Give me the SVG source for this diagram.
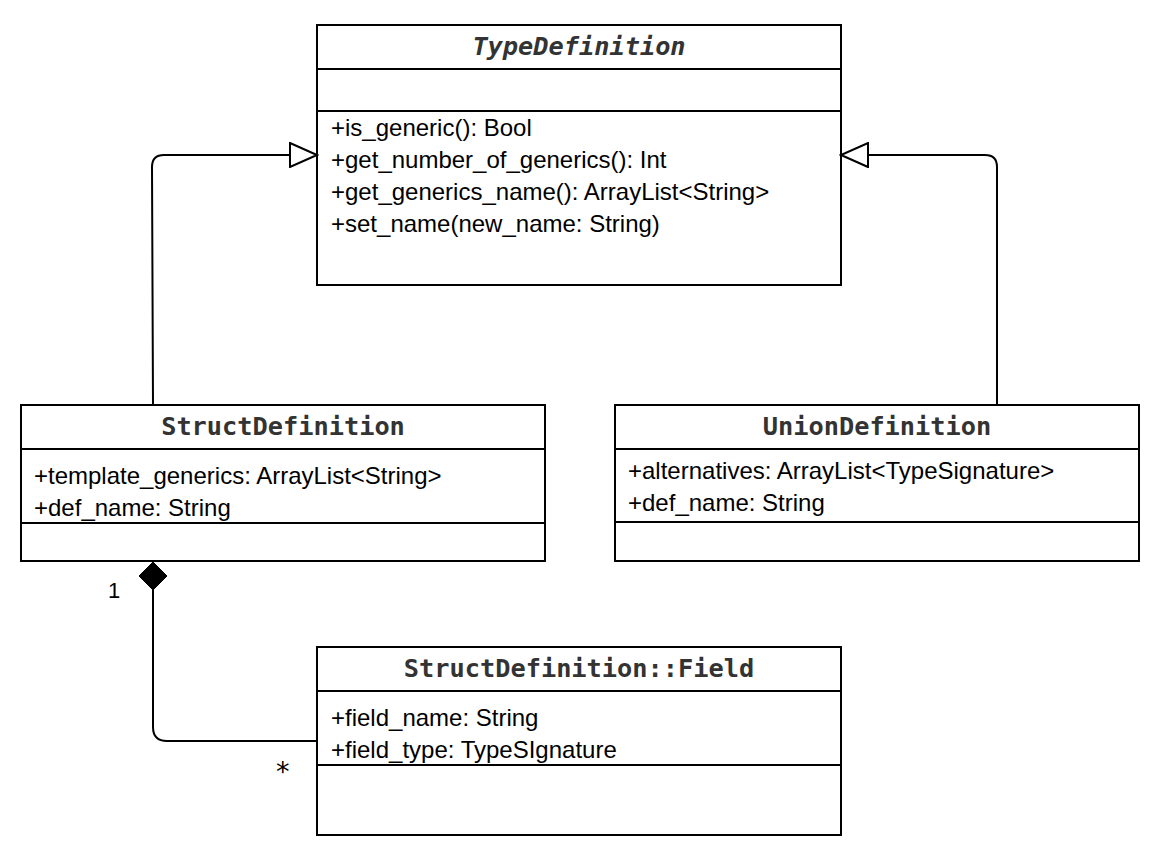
<svg xmlns="http://www.w3.org/2000/svg" width="1162" height="853" viewBox="0 0 1162 853">
<style>
.box{fill:#fff;stroke:#000;stroke-width:2}
.div{stroke:#000;stroke-width:2;fill:none}
.title{font-family:"DejaVu Sans Mono","Liberation Mono",monospace;font-weight:bold;font-size:25.3px;fill:#333;text-anchor:middle}
.it{font-style:italic}
.txt{font-family:"Liberation Sans",Arial,sans-serif;font-size:24px;fill:#000}
.edge{fill:none;stroke:#000;stroke-width:2}
.lbl{font-family:"Liberation Sans",Arial,sans-serif;font-size:22px;fill:#000}
.star{font-family:"DejaVu Sans",sans-serif;font-size:27px;fill:#000}
</style>
<defs>
<marker id="gen" markerWidth="30" markerHeight="26" refX="28" refY="13" orient="auto" markerUnits="userSpaceOnUse">
<path d="M1,1 L28,13 L1,25 Z" fill="#fff" stroke="#000" stroke-width="2"/>
</marker>
<marker id="comp" markerWidth="32" markerHeight="32" refX="2" refY="16" orient="auto" markerUnits="userSpaceOnUse">
<path d="M2,16 L16,2 L30,16 L16,30 Z" fill="#000" stroke="#000" stroke-width="1"/>
</marker>
</defs>
<rect width="1162" height="853" fill="#fff"/>
<g id="TypeDefinition">
<rect class="box" x="317" y="25" width="524" height="260"/>
<line class="div" x1="317" y1="69" x2="841" y2="69"/>
<line class="div" x1="317" y1="111" x2="841" y2="111"/>
<text class="title it" x="579" y="55">TypeDefinition</text>
<text class="txt" x="331" y="136">+is_generic(): Bool</text>
<text class="txt" x="331" y="168">+get_number_of_generics(): Int</text>
<text class="txt" x="331" y="200">+get_generics_name(): ArrayList&lt;String&gt;</text>
<text class="txt" x="331" y="232">+set_name(new_name: String)</text>
</g>
<g id="StructDefinition">
<rect class="box" x="21" y="405" width="524" height="156"/>
<line class="div" x1="21" y1="449" x2="545" y2="449"/>
<line class="div" x1="21" y1="523" x2="545" y2="523"/>
<text class="title" x="283" y="435">StructDefinition</text>
<text class="txt" x="34" y="484">+template_generics: ArrayList&lt;String&gt;</text>
<text class="txt" x="34" y="516">+def_name: String</text>
</g>
<g id="UnionDefinition">
<rect class="box" x="615" y="405" width="524" height="156"/>
<line class="div" x1="615" y1="449" x2="1139" y2="449"/>
<line class="div" x1="615" y1="522" x2="1139" y2="522"/>
<text class="title" x="877" y="435">UnionDefinition</text>
<text class="txt" x="628" y="479">+alternatives: ArrayList&lt;TypeSignature&gt;</text>
<text class="txt" x="628" y="511">+def_name: String</text>
</g>
<g id="StructDefinitionField">
<rect class="box" x="317" y="647" width="524" height="188"/>
<line class="div" x1="317" y1="691" x2="841" y2="691"/>
<line class="div" x1="317" y1="765" x2="841" y2="765"/>
<text class="title" x="579" y="677">StructDefinition::Field</text>
<text class="txt" x="331" y="726">+field_name: String</text>
<text class="txt" x="331" y="758">+field_type: TypeSIgnature</text>
</g>
<g id="connectors">
<path class="edge" d="M153,404 L152,167 Q152,155 164,155 L317,155" marker-end="url(#gen)"/>
<path class="edge" d="M997,404 L997,167 Q997,155 985,155 L841,155" marker-end="url(#gen)"/>
<path class="edge" d="M153,562 L153,727 Q153,741 167,741 L317,741" marker-start="url(#comp)"/>
<text class="lbl" x="108" y="598">1</text>
<text class="star" x="276" y="781">*</text>
</g>
</svg>
